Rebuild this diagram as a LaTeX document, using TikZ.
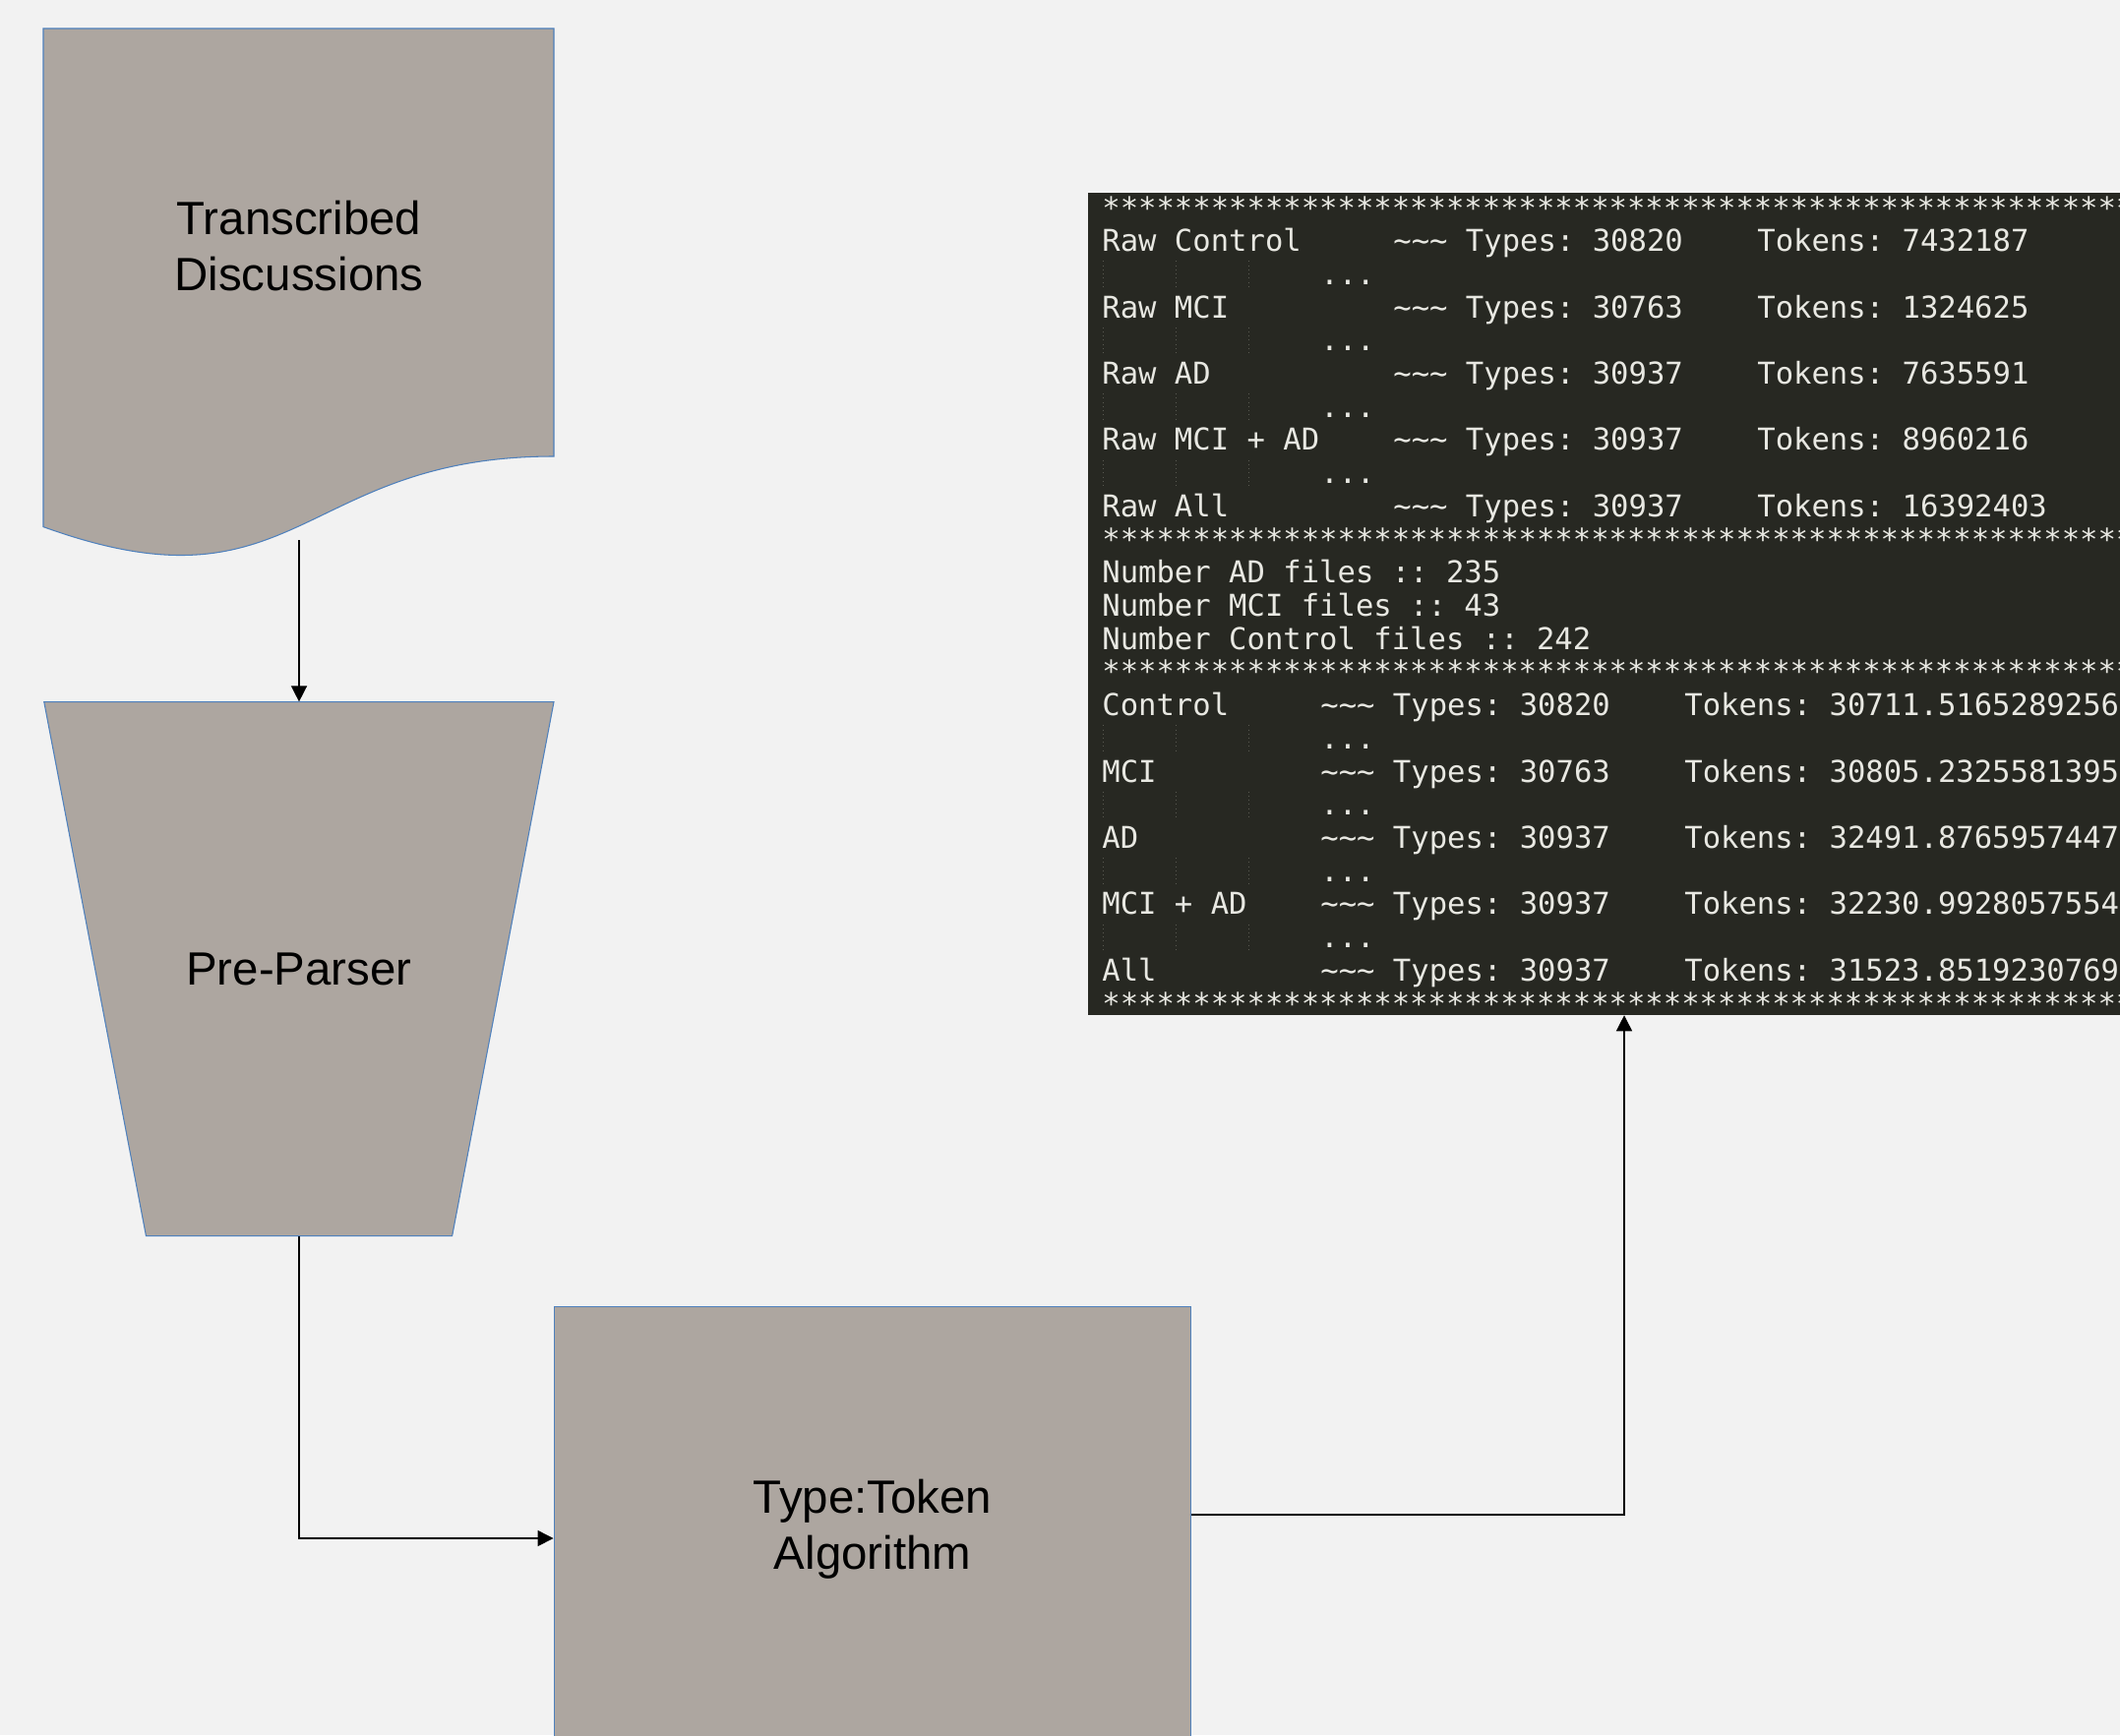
\documentclass[tikz,border=0pt]{standalone}
\usepackage{fontspec}
\usepackage{xcolor}
\setmainfont{Liberation Sans}
\newfontfamily\termfont{DejaVu Sans Mono}
\usetikzlibrary{arrows.meta}
\usepackage{tikz}

\definecolor{canvas}{HTML}{F2F2F2}
\definecolor{boxfill}{RGB}{173,166,160}
\definecolor{boxline}{HTML}{4F81BD}
\definecolor{termbg}{HTML}{272822}
\definecolor{termfg}{HTML}{E8E8E2}
\definecolor{guide}{HTML}{5A5A52}

\tikzset{
  shapebox/.style={fill=boxfill, draw=boxline, line width=0.6pt},
  boxtext/.style={font=\fontsize{27}{32.4}\selectfont, align=center, text=black, inner sep=0pt},
  conn/.style={draw=black, line width=0.8pt, -{Triangle[length=0.32cm,width=0.32cm]}},
  termtxt/.style={font=\termfont\fontsize{17.4}{20}\selectfont\frenchspacing, text=termfg, anchor=base west, inner sep=0pt},
}

\begin{document}
\begin{tikzpicture}[x=0.02cm, y=-0.02cm]
\useasboundingbox (0,0) rectangle (2155,1764);
\clip (0,0) rectangle (2155,1764);
\fill[canvas] (0,0) rectangle (2155,1764);

% document shape
\path[shapebox] (44,29) -- (563,29) -- (563,464) .. controls (303.5,464) and (303.5,629.7) .. (44,535.6) -- cycle;
\node[boxtext] (doc) at (304,250) {Transcribed\\Discussions};
\coordinate (docout) at (304,549);

% pre-parser
\path[shapebox] (44.8,713.7) -- (563,713.7) -- (459.6,1256.7) -- (148.5,1256.7) -- cycle;
\node[boxtext, minimum width=10.38cm, minimum height=10.86cm] (pre) at (304,985.2) {Pre-Parser};

\node[shapebox, boxtext, minimum width=12.96cm, minimum height=9.08cm] (algo) at (887,1555) {Type:Token\\Algorithm};

% terminal output
\node[fill=termbg, minimum width=21.8cm, minimum height=16.72cm, inner sep=0pt] (term) at (1651,614) {};

\foreach \i in {0,10,14,24}
  \node[termtxt] (stars\i) at (1120,{222+33.71*\i}) {************************************************************};

\foreach \i/\nm/\ty/\tk in {1/Raw Control/30820/7432187, 3/Raw MCI/30763/1324625, 5/Raw AD/30937/7635591, 7/Raw MCI + AD/30937/8960216, 9/Raw All/30937/16392403} {
  \node[termtxt] (raw\i) at (1120,{222+33.71*\i}) {\nm};
  \node[termtxt] (rawty\i) at ({1120+18.5*16},{222+33.71*\i}) {\textasciitilde\textasciitilde\textasciitilde{} Types: \ty};
  \node[termtxt] (rawtk\i) at ({1120+18.5*36},{222+33.71*\i}) {Tokens: \tk};
}

\foreach \i/\nm/\ty/\tk in {15/Control/30820/30711.5165289256, 17/MCI/30763/30805.2325581395, 19/AD/30937/32491.8765957447, 21/MCI + AD/30937/32230.9928057554, 23/All/30937/31523.8519230769} {
  \node[termtxt] (avg\i) at (1120,{222+33.71*\i}) {\nm};
  \node[termtxt] (avgty\i) at ({1120+18.5*12},{222+33.71*\i}) {\textasciitilde\textasciitilde\textasciitilde{} Types: \ty};
  \node[termtxt] (avgtk\i) at ({1120+18.5*32},{222+33.71*\i}) {Tokens: \tk};
}

\foreach \i in {2,4,6,8,16,18,20,22} {
  \node[termtxt] (dots\i) at ({1120+18.5*12},{222+33.71*\i}) {...};
  \foreach \c in {0,4,8}
    \draw[guide, line width=0.4pt, dotted] ({1121+18.5*\c},{198+33.71*\i}) -- ({1121+18.5*\c},{226+33.71*\i});
}

\node[termtxt] (nad) at (1120,{222+33.71*11}) {Number AD files :: 235};
\node[termtxt] (nmci) at (1120,{222+33.71*12}) {Number MCI files :: 43};
\node[termtxt] (nctl) at (1120,{222+33.71*13}) {Number Control files :: 242};

% connectors
\draw[conn] (docout) -- (pre.north);
\draw[conn] (pre.south) |- ([yshift=-0.18cm]algo.west);
\draw[conn] ([yshift=0.3cm]algo.east) -| (term.south);

\end{tikzpicture}
\end{document}
